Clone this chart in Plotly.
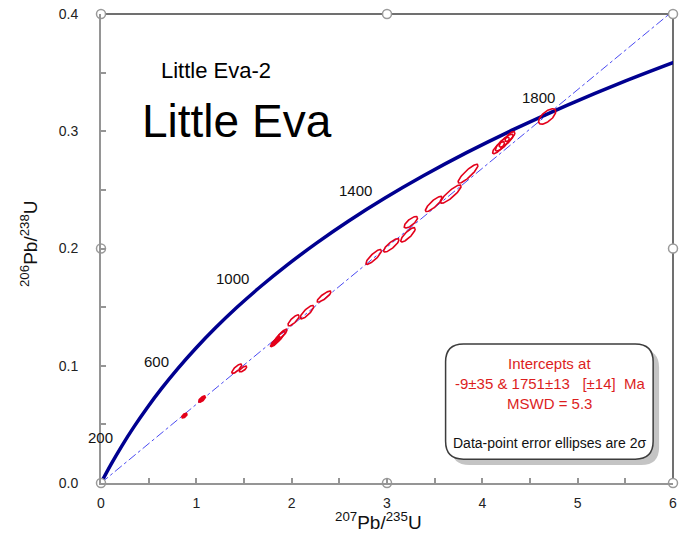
import numpy as np
import plotly.graph_objects as go

# ---------------- data ----------------
# Concordia curve points (age in Ma, 207Pb/235U, 206Pb/238U)
conc_age = [0, 100, 200, 300, 400, 500, 600, 700, 800, 900, 1000,
            1100, 1200, 1300, 1400, 1500, 1600, 1700, 1800, 1900, 2000]
conc_x = [0.0, 0.1035, 0.2177, 0.3437, 0.4828, 0.6362, 0.8056, 0.9924, 1.1986, 1.4263, 1.6774,
          1.9545, 2.2603, 2.5978, 2.9702, 3.3811, 3.8345, 4.3350, 4.8870, 5.4964, 6.1685]
conc_y = [0.0, 0.01563, 0.03151, 0.04765, 0.06402, 0.08065, 0.09754, 0.11470, 0.13213, 0.14983, 0.16779,
          0.18604, 0.20458, 0.22344, 0.24257, 0.26197, 0.28172, 0.30175, 0.32212, 0.34278, 0.36375]

# Age labels on the concordia
label_text = ["200", "600", "1000", "1400", "1800"]
label_x = [0.0, 0.58, 1.378, 2.67, 4.59]
label_y = [0.0392, 0.1036, 0.1748, 0.2497, 0.3288]

# Discordia chord (lower intercept to beyond upper intercept)
chord_x = [0.0, 6.2]
chord_y = [0.0, 0.416]

# Error ellipses: centre x, centre y, half-width x, half-width y, correlation, filled?
ell_x   = [0.875, 1.06, 1.424, 1.49, 1.83, 1.87, 1.90, 2.02, 2.16, 2.34, 2.86, 3.045,
           3.22, 3.25, 3.49, 3.67, 3.85, 4.17, 4.21, 4.25, 4.29, 4.68]
ell_y   = [0.0575, 0.0716, 0.0975, 0.0972, 0.1205, 0.1240, 0.1270, 0.1387, 0.1457, 0.1590, 0.1928, 0.2027,
           0.2117, 0.2224, 0.2380, 0.2464, 0.2638, 0.2860, 0.2890, 0.2920, 0.2955, 0.3126]
ell_sx  = [0.028, 0.036, 0.052, 0.040, 0.052, 0.0625, 0.052, 0.059, 0.071, 0.073, 0.081, 0.081,
           0.076, 0.070, 0.087, 0.108, 0.104, 0.0625, 0.073, 0.073, 0.052, 0.090]
ell_sy  = [0.0020, 0.0027, 0.0040, 0.0025, 0.0042, 0.0055, 0.0042, 0.0047, 0.0057, 0.0047, 0.0063, 0.0057,
           0.0061, 0.0049, 0.0065, 0.0078, 0.0080, 0.0051, 0.0059, 0.0055, 0.0042, 0.0066]
ell_rho = [0.60, 0.70, 0.80, 0.75, 0.85, 0.88, 0.85, 0.80, 0.83, 0.85, 0.85, 0.83,
           0.83, 0.75, 0.85, 0.88, 0.88, 0.80, 0.80, 0.80, 0.75, 0.65]
ell_filled = [True, True, False, False, True, False, False, False, False, False, False, False,
              False, False, False, False, False, False, False, False, False, False]

# Selection handles (open circles) around the frame
handle_x = [0, 3, 6, 0, 0, 3, 6, 6]
handle_y = [0, 0, 0, 0.2, 0.4, 0.4, 0.4, 0.2]

x_ticks = [0, 1, 2, 3, 4, 5, 6]
y_ticks = [0.0, 0.1, 0.2, 0.3, 0.4]

# ---------------- layout geometry ----------------
W, H = 683, 541
L, R, T, B = 101, 677, 11, 483
PW, PH = R - L, B - T
FONT = "Liberation Sans, Arial, sans-serif"
RED = "#e3001a"


def px2paper(px, py):
    return (px - L) / PW, (B - py) / PH


def rounded_rect(x0, y0, x1, y1, r):
    # pixel coords -> paper path
    rx, ry = r / PW, r / PH
    a0, b1 = px2paper(x0, y0)  # top-left
    a1, b0 = px2paper(x1, y1)  # bottom-right
    return (f"M {a0+rx},{b1} L {a1-rx},{b1} Q {a1},{b1} {a1},{b1-ry} "
            f"L {a1},{b0+ry} Q {a1},{b0} {a1-rx},{b0} L {a0+rx},{b0} "
            f"Q {a0},{b0} {a0},{b0+ry} L {a0},{b1-ry} Q {a0},{b1} {a0+rx},{b1} Z")


fig = go.Figure()

# chord
fig.add_trace(go.Scatter(x=chord_x, y=chord_y, mode="lines",
                         line=dict(color="#4a4af2", width=1, dash="dashdot"),
                         hoverinfo="skip", showlegend=False))

# concordia
fig.add_trace(go.Scatter(x=conc_x, y=conc_y, mode="lines", text=conc_age,
                         line=dict(color="#000090", width=3.5, shape="spline"),
                         showlegend=False))

# ellipses
t = np.linspace(0, 2 * np.pi, 81)
for cx, cy, sx, sy, r, filled in zip(ell_x, ell_y, ell_sx, ell_sy, ell_rho, ell_filled):
    ex = cx + sx * np.cos(t)
    ey = cy + sy * (r * np.cos(t) + np.sqrt(1 - r * r) * np.sin(t))
    fig.add_trace(go.Scatter(x=ex, y=ey, mode="lines",
                             line=dict(color=RED, width=1.6),
                             fill="toself" if filled else "none",
                             fillcolor=RED,
                             hoverinfo="skip", showlegend=False))

# handles
fig.add_trace(go.Scatter(x=handle_x, y=handle_y, mode="markers", cliponaxis=False,
                         marker=dict(symbol="circle", size=9, color="white",
                                     line=dict(color="#9a9a9a", width=1.5)),
                         hoverinfo="skip", showlegend=False))

shapes = []
# top and right frame lines
shapes.append(dict(type="line", xref="paper", yref="paper", x0=0, x1=1, y0=1, y1=1,
                   line=dict(color="#707070", width=2), layer="below"))
shapes.append(dict(type="line", xref="paper", yref="paper", x0=1, x1=1, y0=0, y1=1,
                   line=dict(color="#707070", width=2), layer="below"))
# box shadow and box
shapes.append(dict(type="path", xref="paper", yref="paper",
                   path=rounded_rect(454, 349, 663, 465, 18),
                   fillcolor="#c4c4c4", line=dict(width=0), layer="above"))
shapes.append(dict(type="path", xref="paper", yref="paper",
                   path=rounded_rect(448, 343, 657, 459, 18),
                   fillcolor="white", line=dict(color="#3c3c3c", width=1.5), layer="above"))

annotations = []


def add_text(x, y, txt, size, color, xref="paper", yref="paper", angle=0, xshift=0):
    annotations.append(dict(x=x, y=y, xref=xref, yref=yref, text=txt, showarrow=False,
                            xanchor="center", yanchor="middle", textangle=angle, xshift=xshift,
                            font=dict(family=FONT, size=size, color=color)))


for i, (txt, ax_, ay_) in enumerate(zip(label_text, label_x, label_y)):
    add_text(ax_, ay_, txt, 15, "#111", xref="x", yref="y", xshift=-1 if i == 0 else 0)

bx, _ = px2paper(553, 0)
red = "#dc1e1e"
box_lines = [("Intercepts at", 363, red, 15),
             ("-9±35 &amp; 1751±13\u00a0\u00a0\u00a0[±14]\u00a0\u00a0Ma", 383, red, 15),
             ("MSWD = 5.3", 403, red, 15),
             ("Data-point error ellipses are 2σ", 443, "#111", 14)]
for txt, py, col, sz in box_lines:
    _, by = px2paper(0, py)
    add_text(bx, by, txt, sz, col)

# titles inside plot
for txt, px, py, sz in [("Little Eva-2", 217, 68, 22), ("Little Eva", 238, 119, 46)]:
    ax_, ay_ = px2paper(px, py)
    add_text(ax_, ay_, txt, sz, "black")

# axis titles
ax_, ay_ = px2paper(380, 521)
add_text(ax_, ay_, "<sup>207</sup>Pb/<sup>235</sup>U", 19, "#111")
ax_, ay_ = px2paper(28, 242)
add_text(ax_, ay_, "<sup>206</sup>Pb/<sup>238</sup>U", 19, "#111", angle=-90)

axis_common = dict(showgrid=False, zeroline=False, showline=True, linecolor="#959595",
                   linewidth=2, ticks="inside", ticklen=5, tickwidth=1.5, tickcolor="#959595",
                   tickfont=dict(family=FONT, size=14, color="#222"))

fig.update_layout(
    width=W, height=H,
    margin=dict(l=L, r=W - R, t=T, b=H - B, pad=0),
    plot_bgcolor="white", paper_bgcolor="white",
    xaxis=dict(range=[0, 6], tickvals=x_ticks, ticktext=[str(v) for v in x_ticks],
               minor=dict(dtick=0.5, ticks="inside", ticklen=5, tickwidth=1.5, tickcolor="#959595"),
               ticklabelstandoff=6, **axis_common),
    yaxis=dict(range=[0, 0.4], tickvals=y_ticks, ticktext=[f"{v:.1f}" for v in y_ticks],
               minor=dict(dtick=0.05, ticks="inside", ticklen=5, tickwidth=1.5, tickcolor="#959595"),
               ticklabelstandoff=18, **axis_common),
    shapes=shapes, annotations=annotations,
)

fig.write_html("out.html")
